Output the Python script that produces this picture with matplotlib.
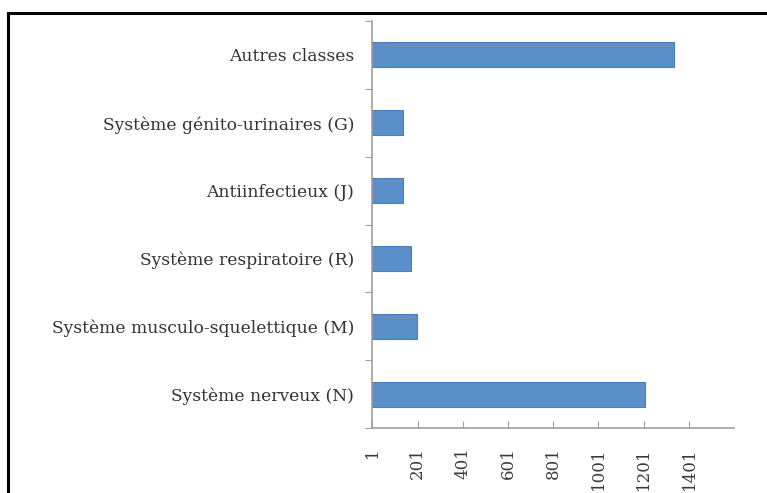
import matplotlib
matplotlib.use('Agg')
import matplotlib.pyplot as plt
from matplotlib.patches import Rectangle

categories = ['Système nerveux (N)', 'Système musculo-squelettique (M)',
              'Système respiratoire (R)', 'Antiinfectieux (J)',
              'Système génito-urinaires (G)', 'Autres classes']
values = [1205, 198, 172, 137, 137, 1333]
xticks = [1, 201, 401, 601, 801, 1001, 1201, 1401]

plt.rcParams['font.family'] = ['DejaVu Serif']

fig = plt.figure(figsize=(7.67, 4.93), dpi=100)
ax = fig.add_axes([0.4854, 0.1318, 0.4718, 0.8256])

pos = range(len(categories))
ax.barh(pos, values, left=1, height=0.37, color='#5b8fca', edgecolor='#4a7dbb', linewidth=0.8)

ax.set_xlim(1, 1601)
ax.set_ylim(-0.5, len(categories) - 0.5)
ax.set_xticks(xticks)
ax.set_xticklabels([str(t) for t in xticks], rotation=90, fontsize=12, color='#3a3a3a')
ax.set_yticks([p + 0.5 for p in range(-1, len(categories))])
ax.set_yticklabels([])
ax.set_yticks(list(pos), minor=True)
ax.set_yticklabels(categories, minor=True, fontsize=12.3, color='#333333')
ax.tick_params(axis='y', which='minor', length=0, pad=13)
ax.tick_params(axis='y', which='major', direction='out', length=5, color='#a0a0a0')
ax.tick_params(axis='x', direction='in', length=5, color='#a0a0a0', pad=14)

for s in ['top', 'right']:
    ax.spines[s].set_visible(False)
ax.spines['left'].set_color('#a0a0a0')
ax.spines['bottom'].set_color('#a0a0a0')
ax.spines['left'].set_linewidth(1.2)
ax.spines['bottom'].set_linewidth(1.2)

# cadre noir autour de la figure
fig.patches.append(Rectangle((7.5 / 767, -0.1), 1.1, 1.1 - 13.5 / 493,
                             transform=fig.transFigure, fill=False,
                             edgecolor='black', linewidth=2.2))

fig.savefig('out.png', dpi=100)
